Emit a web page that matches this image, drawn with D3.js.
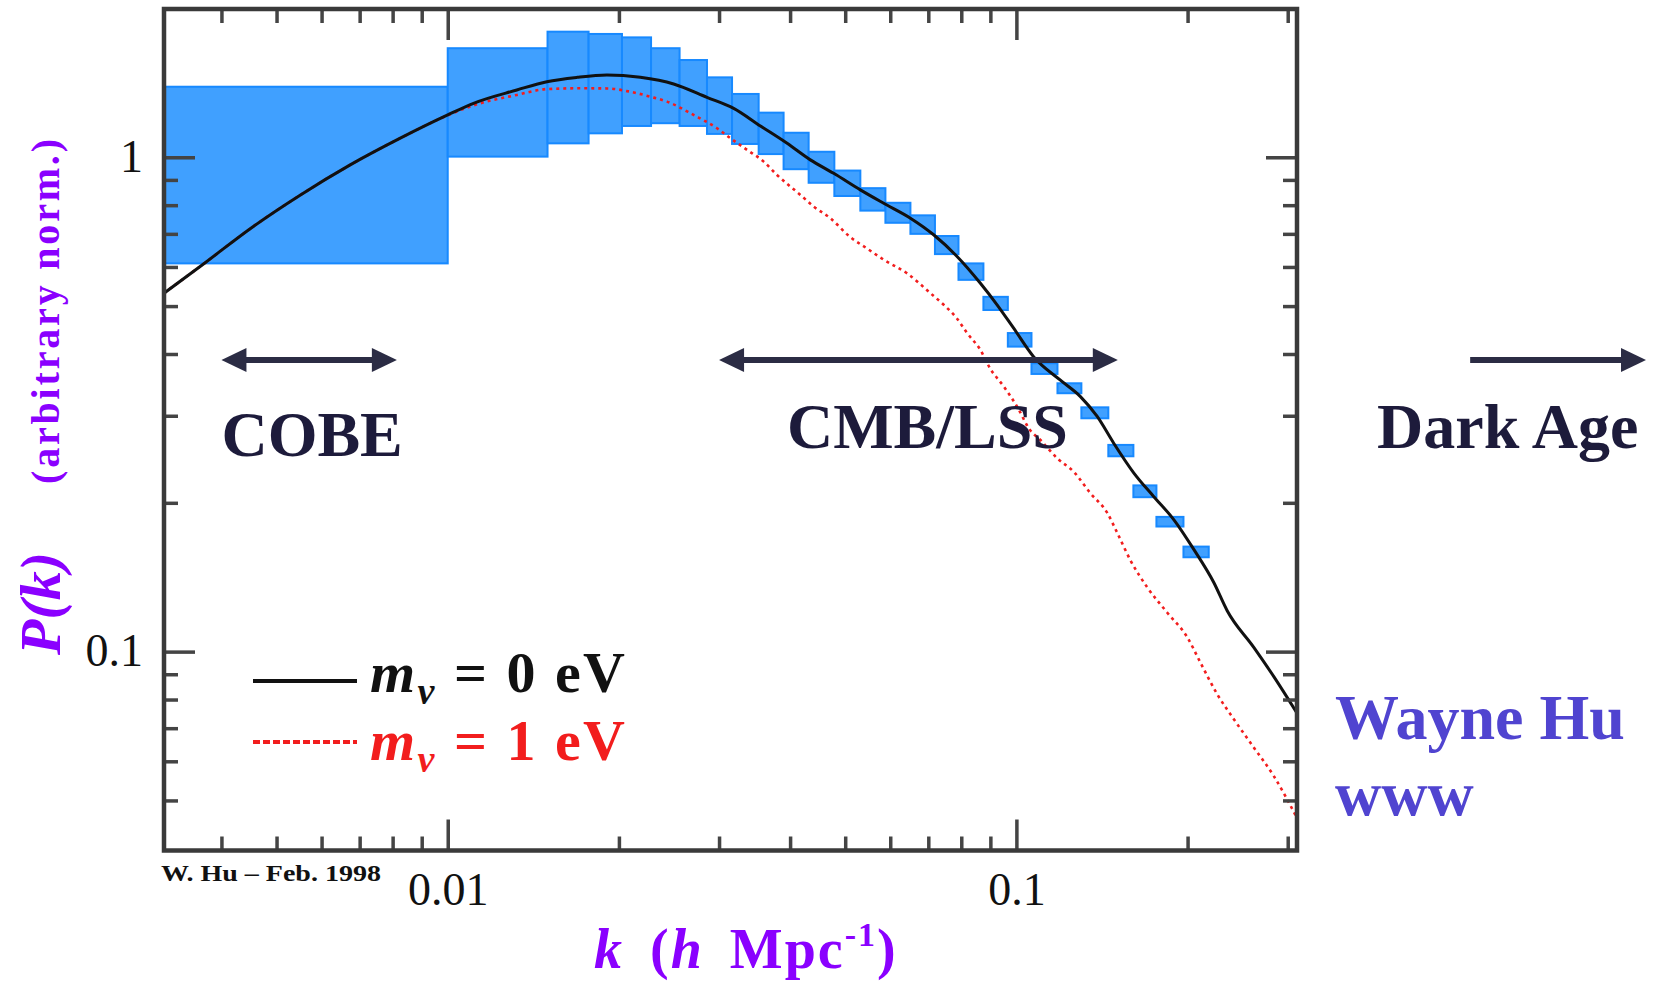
<!DOCTYPE html>
<html>
<head>
<meta charset="utf-8">
<script src="https://cdn.jsdelivr.net/npm/d3@7"></script>
<style>
  body { margin: 0; background: #fff; }
  svg { display: block; }
</style>
</head>
<body>
<svg width="1654" height="984"></svg>
<script>
// band powers (COBE + survey bins), k in h/Mpc
var bandKLo = [0.00317, 0.01, 0.01498, 0.01769, 0.02025, 0.02278, 0.02557, 0.02857, 0.03162, 0.03522, 0.03896, 0.04312, 0.04785, 0.05316, 0.05884, 0.06511, 0.07191, 0.0791, 0.0875, 0.0966, 0.1063, 0.1181, 0.1301, 0.1451, 0.1606, 0.1763, 0.1967];
var bandKHi = [0.01, 0.01498, 0.01769, 0.02025, 0.02278, 0.02557, 0.02857, 0.03162, 0.03522, 0.03896, 0.04312, 0.04785, 0.05316, 0.05884, 0.06511, 0.07191, 0.0791, 0.0875, 0.0966, 0.1063, 0.1181, 0.1301, 0.1451, 0.1606, 0.1763, 0.1967, 0.2179];
var bandPLo = [0.610, 1.003, 1.067, 1.118, 1.157, 1.172, 1.157, 1.115, 1.064, 1.015, 0.946, 0.888, 0.835, 0.780, 0.737, 0.700, 0.637, 0.565, 0.491, 0.414, 0.3645, 0.3332, 0.2965, 0.2484, 0.2053, 0.1791, 0.1552];
var bandPHi = [1.389, 1.662, 1.795, 1.776, 1.748, 1.662, 1.573, 1.451, 1.343, 1.231, 1.121, 1.026, 0.940, 0.866, 0.809, 0.763, 0.693, 0.610, 0.522, 0.441, 0.3832, 0.349, 0.312, 0.2619, 0.2169, 0.1873, 0.1631];

// model curves
var kNu0 = [0.00317, 0.003745, 0.004494, 0.0055, 0.006737, 0.008252, 0.0100, 0.0111, 0.01323, 0.01494, 0.01688, 0.01905, 0.02181, 0.02496, 0.02857, 0.03183, 0.03547, 0.03952, 0.04342, 0.04772, 0.05316, 0.05843, 0.06511, 0.07153, 0.07865, 0.08644, 0.09248, 0.0989, 0.1072, 0.1195, 0.1296, 0.1387, 0.1483, 0.1608, 0.1743, 0.1891, 0.2051, 0.2224, 0.2348, 0.2615, 0.2836, 0.3117];
var pNu0 = [0.531, 0.612, 0.717, 0.838, 0.965, 1.093, 1.218, 1.286, 1.368, 1.422, 1.451, 1.467, 1.451, 1.407, 1.322, 1.256, 1.157, 1.067, 0.988, 0.928, 0.859, 0.807, 0.753, 0.697, 0.630, 0.556, 0.503, 0.451, 0.395, 0.354, 0.328, 0.299, 0.264, 0.230, 0.206, 0.185, 0.161, 0.138, 0.121, 0.102, 0.089, 0.075];
var kNu1 = [0.00317, 0.003745, 0.004494, 0.0055, 0.006737, 0.008252, 0.0100, 0.01109, 0.01323, 0.01494, 0.0171, 0.01905, 0.02094, 0.02272, 0.0243, 0.02706, 0.02975, 0.03141, 0.0336, 0.03594, 0.03794, 0.04171, 0.04401, 0.04708, 0.05092, 0.0546, 0.0585, 0.0643, 0.0706, 0.0745, 0.0786, 0.0819, 0.0864, 0.0899, 0.0950, 0.1003, 0.1056, 0.1102, 0.118, 0.1262, 0.135, 0.1444, 0.1504, 0.1587, 0.1698, 0.1841, 0.1997, 0.2107, 0.2255, 0.2412, 0.2615, 0.2836, 0.3117];
var pNu1 = [0.531, 0.612, 0.717, 0.838, 0.965, 1.093, 1.216, 1.273, 1.337, 1.374, 1.379, 1.378, 1.357, 1.326, 1.296, 1.218, 1.145, 1.093, 1.035, 0.980, 0.921, 0.839, 0.795, 0.753, 0.691, 0.654, 0.620, 0.582, 0.531, 0.503, 0.472, 0.441, 0.408, 0.374, 0.344, 0.313, 0.281, 0.268, 0.246, 0.231, 0.209, 0.191, 0.174, 0.153, 0.135, 0.120, 0.107, 0.095, 0.082, 0.073, 0.064, 0.056, 0.046];

// ticks
var xMajor = [0.01, 0.1];
var xMinor = [0.004, 0.005, 0.006, 0.007, 0.008, 0.009, 0.02, 0.03, 0.04, 0.05, 0.06, 0.07, 0.08, 0.09, 0.2, 0.3];
var yMajor = [0.1, 1];
var yMinor = [0.05, 0.06, 0.07, 0.08, 0.09, 0.2, 0.3, 0.4, 0.5, 0.6, 0.7, 0.8, 0.9, 2];

// k ranges probed
var spanNames = ['COBE', 'CMB/LSS', 'Dark Age'];
var spanFrom = [0.0040, 0.0300, 0.628];
var spanTo = [0.00814, 0.1508, 1.28];
var spanTwoHeads = [true, true, false];
var spanLabelK = [0.0040, 0.0395, 0.4307];
var spanLabelP = [0.249, 0.258, 0.258];
var spanLevel = 0.389;

var legendNames = ['0 eV', '1 eV'];

var svg = d3.select('svg');
var serif = "'Liberation Serif', 'Times New Roman', serif";

var x = d3.scaleLog().domain([0.00317, 0.3115]).range([164, 1297]);
var y = d3.scaleLog().domain([0.0396, 1.995]).range([850.5, 9]);

var plotLeft = x.range()[0], plotRight = x.range()[1];
var plotBottom = y.range()[0], plotTop = y.range()[1];

svg.append('clipPath').attr('id', 'plot')
  .append('rect')
  .attr('x', plotLeft).attr('y', plotTop)
  .attr('width', plotRight - plotLeft)
  .attr('height', plotBottom - plotTop);

var plot = svg.append('g').attr('clip-path', 'url(#plot)');

// bands
plot.selectAll('rect.band')
  .data(d3.range(bandKLo.length))
  .enter()
  .append('rect')
  .attr('class', 'band')
  .attr('x', function(i) { return x(bandKLo[i]); })
  .attr('width', function(i) { return x(bandKHi[i]) - x(bandKLo[i]); })
  .attr('y', function(i) { return y(bandPHi[i]); })
  .attr('height', function(i) { return y(bandPLo[i]) - y(bandPHi[i]); })
  .attr('fill', '#40a0ff')
  .attr('stroke', '#1789ff')
  .attr('stroke-width', 2);

var line = d3.line()
  .x(function(d) { return x(d[0]); })
  .y(function(d) { return y(d[1]); })
  .curve(d3.curveMonotoneX);

plot.append('path')
  .attr('d', line(d3.zip(kNu1, pNu1)))
  .attr('fill', 'none')
  .attr('stroke', '#f21d1d')
  .attr('stroke-width', 2.6)
  .attr('stroke-dasharray', '3,4');

plot.append('path')
  .attr('d', line(d3.zip(kNu0, pNu0)))
  .attr('fill', 'none')
  .attr('stroke', '#111')
  .attr('stroke-width', 3);

// axes, ticks pointing inward
var styleAxis = function(g) {
  g.select('.domain').remove();
  g.selectAll('.tick line').attr('stroke', '#444').attr('stroke-width', 3.5);
  g.selectAll('.tick text')
    .attr('font-family', serif)
    .attr('font-size', 46)
    .attr('fill', '#111');
};

svg.append('g').attr('transform', 'translate(0,' + plotBottom + ')')
  .call(d3.axisBottom(x).tickValues(xMinor).tickSize(-14).tickFormat(''))
  .call(styleAxis);
svg.append('g').attr('transform', 'translate(0,' + plotBottom + ')')
  .call(d3.axisBottom(x).tickValues(xMajor).tickSize(-31).tickFormat(d3.format('~g')))
  .call(styleAxis)
  .selectAll('.tick text').attr('dy', null).attr('y', 54.5);

svg.append('g').attr('transform', 'translate(0,' + plotTop + ')')
  .call(d3.axisTop(x).tickValues(xMinor).tickSize(-14).tickFormat(''))
  .call(styleAxis);
svg.append('g').attr('transform', 'translate(0,' + plotTop + ')')
  .call(d3.axisTop(x).tickValues(xMajor).tickSize(-31).tickFormat(''))
  .call(styleAxis);

svg.append('g').attr('transform', 'translate(' + plotLeft + ',0)')
  .call(d3.axisLeft(y).tickValues(yMinor).tickSize(-14).tickFormat(''))
  .call(styleAxis);
svg.append('g').attr('transform', 'translate(' + plotLeft + ',0)')
  .call(d3.axisLeft(y).tickValues(yMajor).tickSize(-31).tickPadding(21).tickFormat(d3.format('~g')))
  .call(styleAxis)
  .selectAll('.tick text').attr('dy', '0.3em');

svg.append('g').attr('transform', 'translate(' + plotRight + ',0)')
  .call(d3.axisRight(y).tickValues(yMinor).tickSize(-14).tickFormat(''))
  .call(styleAxis);
svg.append('g').attr('transform', 'translate(' + plotRight + ',0)')
  .call(d3.axisRight(y).tickValues(yMajor).tickSize(-31).tickFormat(''))
  .call(styleAxis);

// frame
svg.append('rect')
  .attr('x', plotLeft).attr('y', plotTop)
  .attr('width', plotRight - plotLeft).attr('height', plotBottom - plotTop)
  .attr('fill', 'none')
  .attr('stroke', '#3a3a3a')
  .attr('stroke-width', 4.5);

// axis titles
svg.append('text')
  .attr('x', 594).attr('y', 968)
  .attr('font-family', serif).attr('font-size', 56).attr('font-weight', 'bold')
  .attr('fill', '#8a00ff')
  .style('letter-spacing', '2px')
  .style('word-spacing', '10px')
  .call(function(t) {
    t.append('tspan').attr('font-style', 'italic').text('k');
    t.append('tspan').text(' (');
    t.append('tspan').attr('font-style', 'italic').text('h');
    t.append('tspan').text(' Mpc');
    t.append('tspan').attr('font-size', 34).attr('dy', -22).text('-1');
    t.append('tspan').attr('dy', 22).text(')');
  });

svg.append('text')
  .attr('transform', 'translate(60,655) rotate(-90)')
  .attr('font-family', serif).attr('font-size', 58).attr('font-weight', 'bold')
  .attr('font-style', 'italic')
  .attr('fill', '#8a00ff')
  .text('P(k)');
svg.append('text')
  .attr('transform', 'translate(59,484) rotate(-90)')
  .attr('font-family', serif).attr('font-size', 40).attr('font-weight', 'bold')
  .attr('fill', '#8a00ff')
  .attr('textLength', 345)
  .text('(arbitrary norm.)');

svg.append('text')
  .attr('x', 161).attr('y', 881)
  .attr('font-family', serif).attr('font-size', 24).attr('font-weight', 'bold')
  .attr('fill', '#111')
  .attr('textLength', 220).attr('lengthAdjust', 'spacingAndGlyphs')
  .text('W. Hu \u2013 Feb. 1998');

// legend
var legendColors = ['#111', '#f21d1d'];
var legendDash = [null, '7,3'];
var legendLineY = [681, 742];
var legendTextY = [692, 760];
legendNames.forEach(function(name, i) {
  svg.append('line')
    .attr('x1', 253).attr('x2', 357)
    .attr('y1', legendLineY[i]).attr('y2', legendLineY[i])
    .attr('stroke', legendColors[i])
    .attr('stroke-width', 4)
    .attr('stroke-dasharray', legendDash[i]);
  var t = svg.append('text')
    .attr('x', 370).attr('y', legendTextY[i])
    .attr('font-family', serif).attr('font-size', 58).attr('font-weight', 'bold')
    .attr('fill', legendColors[i])
    .attr('textLength', 255);
  t.append('tspan').attr('font-style', 'italic').text('m');
  t.append('tspan').attr('font-style', 'italic').attr('font-size', 38).attr('dy', 12).text('\u03bd');
  t.append('tspan').attr('dy', -12).text(' = ' + name);
});

// k-range arrows
var ink = '#2b2c44';
var head = function(xTip, yTip, dir) {
  return 'M' + xTip + ',' + yTip +
    'L' + (xTip - dir * 25) + ',' + (yTip - 12) +
    'L' + (xTip - dir * 25) + ',' + (yTip + 12) + 'Z';
};
spanNames.forEach(function(name, i) {
  var x0 = x(spanFrom[i]), x1 = x(spanTo[i]), yy = y(spanLevel);
  svg.append('line')
    .attr('x1', spanTwoHeads[i] ? x0 + 20 : x0).attr('x2', x1 - 20)
    .attr('y1', yy).attr('y2', yy)
    .attr('stroke', ink).attr('stroke-width', 6);
  svg.append('path').attr('d', head(x1, yy, 1)).attr('fill', ink);
  if (spanTwoHeads[i]) svg.append('path').attr('d', head(x0, yy, -1)).attr('fill', ink);
  svg.append('text')
    .attr('x', x(spanLabelK[i])).attr('y', y(spanLabelP[i]))
    .attr('font-family', serif).attr('font-size', 64).attr('font-weight', 'bold')
    .attr('fill', '#1d1b3b')
    .text(name);
});

svg.append('text')
  .attr('x', 1335).attr('y', 739)
  .attr('font-family', serif).attr('font-size', 64).attr('font-weight', 'bold')
  .attr('fill', '#5044d0')
  .text('Wayne Hu');
svg.append('text')
  .attr('x', 1335).attr('y', 815)
  .attr('font-family', serif).attr('font-size', 64).attr('font-weight', 'bold')
  .attr('fill', '#5044d0')
  .text('www');
</script>
</body>
</html>
